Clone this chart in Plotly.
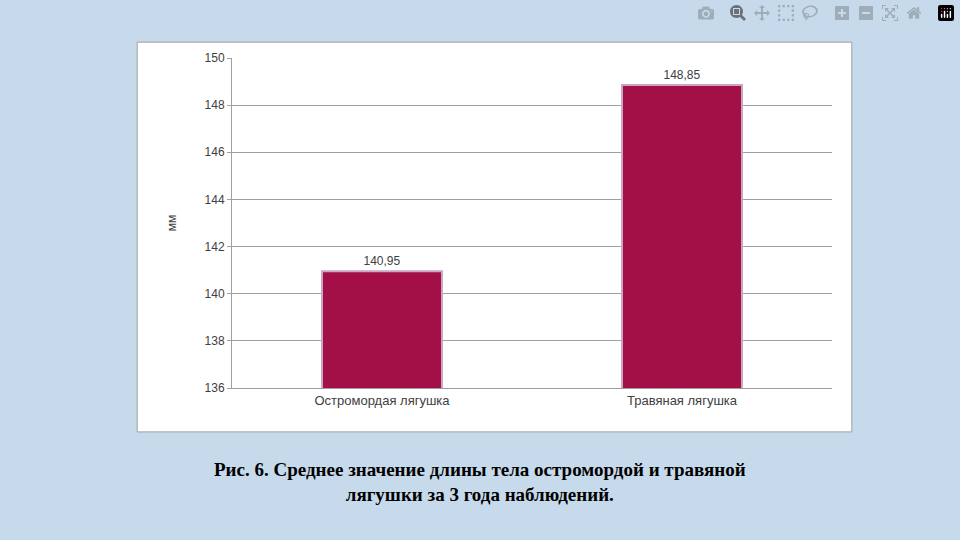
import plotly.graph_objects as go

categories = ["Остромордая лягушка", "Травяная лягушка"]
values = [140.95, 148.85]
labels = ["140,95", "148,85"]

fig = go.Figure(go.Bar(
    x=categories, y=values, text=labels, textposition="outside",
    textfont=dict(size=12, color="#404040"),
    marker=dict(color="#a31047", line=dict(color="#c9a6c4", width=2)),
    cliponaxis=False,
))

# white chart panel
fig.add_shape(type="rect", xref="paper", yref="paper", x0=-0.158, x1=1.033, y0=-0.133, y1=1.048,
              fillcolor="white", line=dict(color="#a0a0a0", width=1), layer="below")

fig.add_annotation(xref="paper", yref="paper", x=0.413, y=-0.21, xanchor="center", yanchor="top",
                   text="<b>Рис. 6. Среднее значение длины тела остромордой и травяной<br>лягушки за 3 года наблюдений.</b>",
                   showarrow=False, font=dict(family="Liberation Serif", size=19, color="black"))

fig.update_layout(
    width=960, height=540, margin=dict(l=232, r=128, t=58, b=152),
    paper_bgcolor="#c6daeb", plot_bgcolor="white", bargap=0.6, showlegend=False,
    font=dict(family="Liberation Sans", size=12, color="#404040"),
    yaxis=dict(range=[136, 150], dtick=2, gridcolor="#a0a0a0", showline=True, linecolor="#a0a0a0",
               ticks="outside", tickcolor="#a0a0a0", ticklen=4, zeroline=False,
               title=dict(text="мм", font=dict(size=12), standoff=25)),
    xaxis=dict(showline=True, linecolor="#a0a0a0", tickfont=dict(size=13)),
)

fig.write_html("out.html", post_script="document.body.style.margin='0';document.body.style.background='#c6daeb';")
